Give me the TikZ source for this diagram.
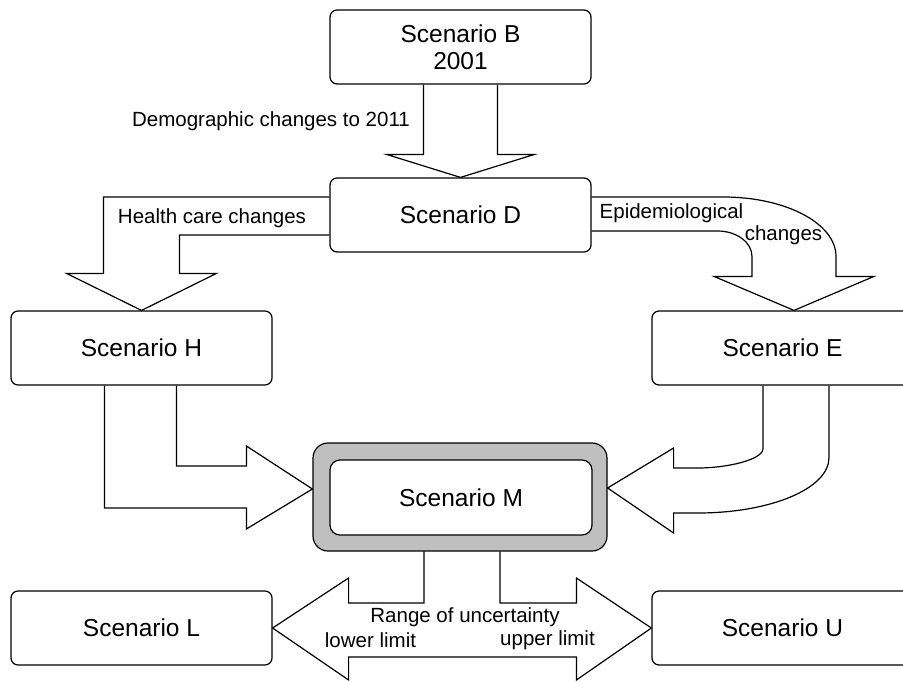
\documentclass[tikz,border=0pt]{standalone}
\usepackage{fontspec}
\setmainfont{Liberation Sans}
\usetikzlibrary{calc}

\begin{document}
\begin{tikzpicture}[x=1pt,y=-1pt,
		box/.style={draw, line width=1.2pt, rounded corners=7pt, fill=white, minimum width=261pt, minimum height=74pt, inner sep=0pt, align=center, font=\fontsize{24.5}{27}\selectfont},
		blockarrow/.style={draw, line width=1.2pt, line join=miter},
		lbl/.style={inner sep=0pt, font=\fontsize{20.5}{23}\selectfont}]
			%%%%% START %%%%%
			
			\clip (0,0) rectangle (903,681);
			\fill[white] (0,0) rectangle (903,681);
			
			\node[box] (B) at (460.5,47) {Scenario B\\2001};
			\node[box] (D) at (460.5,215) {Scenario D};
			\node[box] (H) at (141.5,348) {Scenario H};
			\node[box] (E) at (782.5,348) {Scenario E};
			\node[box] (L) at (141.5,628) {Scenario L};
			\node[box] (U) at (782.5,628) {Scenario U};
			
			\node[draw, line width=1.2pt, rounded corners=15pt, fill=black!25, minimum width=294pt, minimum height=108pt] (M) at (460,497) {};
			\node[box, rounded corners=10pt, minimum width=262pt, minimum height=75pt] (Min) at (461,497.5) {Scenario M};
			
			\coordinate (et) at ($(E.north)+(11.5,0)$);
			\coordinate (me) at ($(M.east)+(0,-9)$);
			\coordinate (mw) at ($(M.west)+(0,-8)$);
			
			\draw[blockarrow] ($(B.south)+(-37,0)$) -- ($(D.north)+(-37,-23)$) -- ($(D.north)+(-74,-23)$) -- (D.north) -- ($(D.north)+(74,-23)$) -- ($(D.north)+(37,-23)$) -- ($(B.south)+(37,0)$);
			
			\draw[blockarrow] ($(D.west)+(0,-18)$) -| ($(H.north)+(-38,-37)$) -- ($(H.north)+(-75,-37)$) -- (H.north) -- ($(H.north)+(75,-37)$) -- ($(H.north)+(38,-37)$) |- ($(D.west)+(0,20)$);
			
			\draw[blockarrow] ($(D.east)+(0,-18)$) -- ($(D.east)+(132,-18)$) .. controls ($(D.east)+(194,-18)$) and ($(et)+(42,-87)$) .. ($(et)+(42,-54)$) -- ($(et)+(42,-34)$) -- ($(et)+(80,-34)$) -- (et) -- ($(et)+(-80,-34)$) -- ($(et)+(-42,-34)$) -- ($(et)+(-42,-54)$) .. controls ($(et)+(-42,-68)$) and ($(D.east)+(145,16)$) .. ($(D.east)+(126,16)$) -- ($(D.east)+(0,16)$);
			
			\draw[blockarrow] ($(H.south)+(-37,0)$) |- ($(mw)+(-66,19)$) -- ($(mw)+(-66,40)$) -- (mw) -- ($(mw)+(-66,-43)$) -- ($(mw)+(-66,-23)$) -| ($(H.south)+(35,0)$);
			
			\draw[blockarrow] ($(E.south)+(-19.5,0)$) -- ($(E.south)+(-19.5,63)$) .. controls ($(E.south)+(-19.5,74)$) and ($(me)+(120,-20)$) .. ($(me)+(90,-20)$) -- ($(me)+(66,-20)$) -- ($(me)+(66,-40)$) -- (me) -- ($(me)+(66,45)$) -- ($(me)+(66,25)$) -- ($(me)+(90,25)$) .. controls ($(me)+(163,25)$) and ($(E.south)+(46.5,103)$) .. ($(E.south)+(46.5,72)$) -- ($(E.south)+(46.5,0)$);
			
			\draw[blockarrow] ($(M.south)+(-36,0)$) |- ($(L.east)+(76,-25)$) -- ($(L.east)+(76,-50)$) -- (L.east) -- ($(L.east)+(76,52)$) -- ($(L.east)+(76,29)$) -- ($(U.west)+(-75,29)$) -- ($(U.west)+(-75,52)$) -- (U.west) -- ($(U.west)+(-75,-50)$) -- ($(U.west)+(-75,-25)$) -| ($(M.south)+(40,0)$);
			
			\node[lbl] (demog) at (271,121) {Demographic changes to 2011};
			\node[lbl] (health) at (212,218) {Health care changes};
			\node[lbl] (epi) at (671.5,213) {Epidemiological};
			\node[lbl] (epichg) at (783.5,235) {changes};
			\node[lbl] (range) at (465,617) {Range of uncertainty};
			\node[lbl] (lower) at (370.5,640) {lower limit};
			\node[lbl] (upper) at (547.5,640) {upper limit};
			
			%%%%% END %%%%%
		\end{tikzpicture}
\end{document}
